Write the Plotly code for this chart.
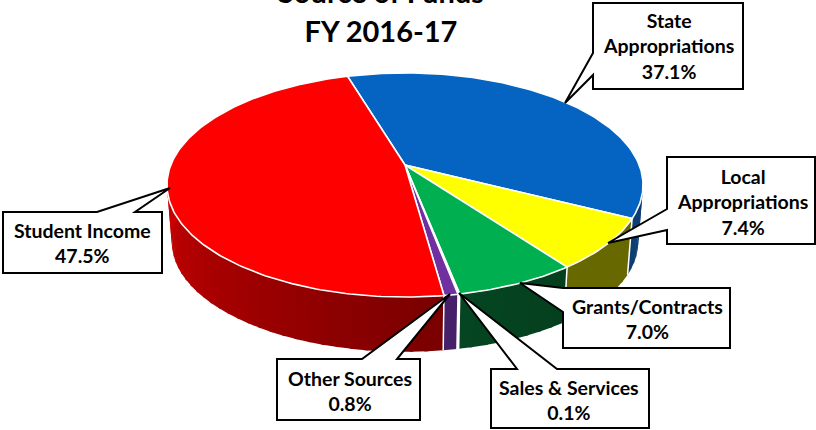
import numpy as np
import plotly.graph_objects as go

categories = ["State Appropriations", "Local Appropriations", "Grants/Contracts",
              "Sales & Services", "Other Sources", "Student Income"]
values = [37.1, 7.4, 7.0, 0.1, 0.8, 47.5]
top_colors = ["#0563c1", "#ffff00", "#00b050", "#ffffff", "#7030a0", "#ff0000"]
# wall colour stops: (left-most shade, right-most shade) along the screen
wall_colors = [((12, 62, 115), (12, 62, 115)), ((104, 104, 0), (104, 104, 0)), ((5, 64, 30), (5, 70, 34)),
               ((255, 255, 255), (255, 255, 255)), ((70, 32, 104), (70, 32, 104)), ((215, 0, 0), (122, 0, 0))]
label_texts = ["State<br>Appropriations<br>37.1%", "Local<br>Appropriations<br>7.4%",
               "Grants/Contracts<br>7.0%", "Sales &amp; Services<br>0.1%",
               "Other Sources<br>0.8%", "Student Income<br>47.5%"]
title_lines = ["Source of Funds", "FY 2016-17"]

START = -16.7
CX, CY, K, AY, P = 405.0, 165.0, 234.2, 79.0, 0.1786


def rim(theta_deg):
    t = np.radians(theta_deg)
    u, v = np.sin(t), -np.cos(t)
    d = 1 - P * v
    return CX + K * u / d, (AY * v + CY) / d


def low(theta_deg):
    x, y = rim(theta_deg)
    return CX + 0.98 * (x - CX), 242 + 0.98 * (y - 185)


bounds = START + np.concatenate([[0], np.cumsum(values)]) * 360 / sum(values)
fig = go.Figure()


def poly(xs, ys, fill, line=None, width=0):
    fig.add_trace(go.Scatter(x=list(xs), y=list(ys), mode="lines", fill="toself", fillcolor=fill,
                             line=dict(color=line or fill, width=width), hoverinfo="skip", showlegend=False))


VIS_A, VIS_B = 82, 280
for i, cat in enumerate(categories):
    a, b = max(bounds[i], VIS_A), min(bounds[i + 1], VIS_B)
    if b <= a:
        continue
    n = max(1, int((b - a) / 3))
    edges = np.linspace(a, b, n + 1)
    c0, c1 = wall_colors[i]
    for j in range(n):
        t = np.linspace(edges[j], edges[j + 1] + (0.8 if j < n - 1 else 0), 5)
        x1, y1 = rim(t)
        x2, y2 = low(t)
        f = (j + 0.5) / n
        if i == 5:  # student income: darkest next to the front
            col = tuple(int(c1[k] + (c0[k] - c1[k]) * f) for k in range(3))
        else:
            col = tuple(int(c0[k] + (c1[k] - c0[k]) * f) for k in range(3))
        poly(np.r_[x1, x2[::-1]], np.r_[y1, y2[::-1]], "rgb(%d,%d,%d)" % col)

# white wall edges at the slice boundaries
for b in bounds:
    if VIS_A < (b % 360) < VIS_B and (b % 360) > 100:
        x1, y1 = rim(b)
        x2, y2 = low(b)
        fig.add_trace(go.Scatter(x=[x1, x2], y=[y1, y2], mode="lines", line=dict(color="white", width=1.5),
                                 hoverinfo="skip", showlegend=False))

# top faces
for i, cat in enumerate(categories):
    t = np.linspace(bounds[i], bounds[i + 1], max(3, int(values[i] * 4)))
    x, y = rim(t)
    poly(np.r_[CX, x, CX], np.r_[CY, y, CY], top_colors[i], "white", 1.6)

# callouts: box outline with its pointer (screen layout, not data)
callouts = [
    [(593, 3), (743, 3), (743, 89), (593, 89), (593, 75), (565, 103), (593, 53)],
    [(667, 157), (815, 157), (815, 244), (667, 244), (667, 230), (608, 243), (667, 209)],
    [(563, 288), (730, 288), (730, 348), (563, 348), (563, 312), (520, 283)],
    [(491, 369), (517, 369), (459, 293), (557, 369), (649, 369), (649, 428), (491, 428)],
    [(277, 359), (362, 359), (450, 294), (397, 359), (420, 359), (420, 420), (277, 420)],
    [(3, 212), (97, 212), (170, 188), (135, 212), (162, 212), (162, 273), (3, 273)],
]
label_centres = [(668, 46), (742, 202), (647, 319), (569, 400), (350, 391), (82, 243)]
shapes = []
for pts in callouts:
    path = "M" + " L".join("%g,%g" % p for p in pts) + " Z"
    shapes.append(dict(type="path", path=path, xref="x", yref="y", fillcolor="white",
                       line=dict(color="black", width=2)))

annotations = [dict(x=cx, y=cy, xref="x", yref="y", text="<b>%s</b>" % txt, showarrow=False,
                    font=dict(family="Lato", size=19.5, color="#000000"), align="center",
                    xanchor="center", yanchor="middle")
               for (cx, cy), txt in zip(label_centres, label_texts)]
title_text = "<br>".join('<span style="font-size:29px"><b>%s</b></span>' % s for s in title_lines)
annotations.append(dict(x=381, y=50, xref="x", yref="y", yanchor="bottom", xanchor="center", showarrow=False,
                        align="center", text=title_text,
                        font=dict(family="Lato", size=30, color="#000000")))

fig.update_layout(width=816, height=430, margin=dict(l=0, r=0, t=0, b=0), autosize=False,
                  paper_bgcolor="white", plot_bgcolor="white", shapes=shapes, annotations=annotations,
                  xaxis=dict(range=[0, 816], visible=False, fixedrange=True),
                  yaxis=dict(range=[430, 0], visible=False, fixedrange=True))
fig.write_html("out.html", config=dict(displayModeBar=False),
               post_script="document.body.style.margin='0';document.body.style.overflow='hidden';")
